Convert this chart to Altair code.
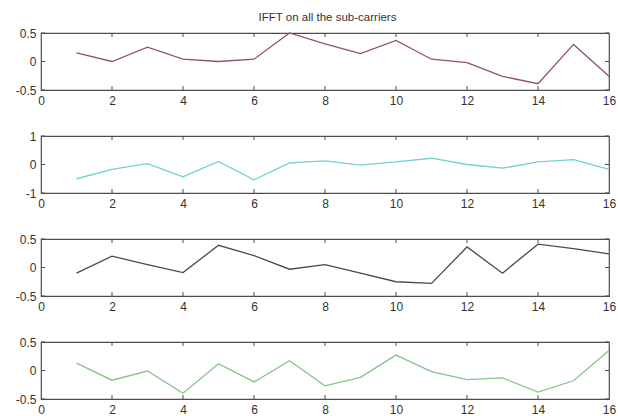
import altair as alt
import pandas as pd

# Sub-carrier index and the four IFFT output rows
carrier = list(range(1, 17))
row1 = [0.15, 0.0, 0.25, 0.04, 0.0, 0.04, 0.5, 0.31, 0.14, 0.37, 0.04, -0.02, -0.26, -0.39, 0.30, -0.26]
row2 = [-0.5, -0.17, 0.03, -0.43, 0.11, -0.54, 0.06, 0.13, -0.02, 0.09, 0.22, 0.0, -0.13, 0.09, 0.17, -0.17]
row3 = [-0.10, 0.20, 0.05, -0.09, 0.39, 0.21, -0.03, 0.05, -0.10, -0.25, -0.28, 0.36, -0.10, 0.41, 0.33, 0.24]
row4 = [0.13, -0.17, -0.01, -0.40, 0.12, -0.20, 0.17, -0.27, -0.12, 0.27, -0.02, -0.16, -0.13, -0.38, -0.18, 0.35]

colors = ["#94525f", "#72cfd2", "#4a4a4a", "#86c486"]
y_limits = [(-0.5, 0.5), (-1, 1), (-0.5, 0.5), (-0.5, 0.5)]
y_ticks = [[-0.5, 0, 0.5], [-1, 0, 1], [-0.5, 0, 0.5], [-0.5, 0, 0.5]]
x_ticks = list(range(0, 17, 2))
inner_x_ticks = list(range(2, 15, 2))

W, H = 568, 57
FONT = "Liberation Sans"
FRAME = "#4d4d4d"


def panel(values, color, ylim, yt):
    df = pd.DataFrame({"n": carrier, "v": values})
    xs = alt.Scale(domain=[0, 16], nice=False, zero=False)
    ys = alt.Scale(domain=list(ylim), nice=False, zero=False)
    # one axis definition shared by every layer so the merged axes agree
    xa = alt.Axis(values=x_ticks, title=None, ticks=False, domain=False, grid=False,
                  labelPadding=5, labelFlush=False, labelOverlap=False,
                  labelExpr="'' + datum.value")
    ya = alt.Axis(values=yt, title=None, ticks=False, domain=False, grid=False,
                  labelPadding=5, labelFlush=False, labelOverlap=False,
                  tickCount=len(yt), labelExpr="'' + datum.value")
    line = alt.Chart(df).mark_line(color=color, strokeWidth=1.3).encode(
        x=alt.X("n:Q", scale=xs, axis=xa),
        y=alt.Y("v:Q", scale=ys, axis=ya),
    )
    tx = pd.DataFrame({"t": inner_x_ticks})
    ty = pd.DataFrame({"t": yt})
    # inward tick marks along the four sides of the box
    top = alt.Chart(tx).mark_rule(color=FRAME, strokeWidth=1).encode(
        x=alt.X("t:Q", scale=xs, axis=xa), y=alt.value(0), y2=alt.value(4))
    bottom = alt.Chart(tx).mark_rule(color=FRAME, strokeWidth=1).encode(
        x=alt.X("t:Q", scale=xs, axis=xa), y=alt.value(H - 4), y2=alt.value(H))
    left = alt.Chart(ty).mark_rule(color=FRAME, strokeWidth=1).encode(
        y=alt.Y("t:Q", scale=ys, axis=ya), x=alt.value(0), x2=alt.value(4))
    right = alt.Chart(ty).mark_rule(color=FRAME, strokeWidth=1).encode(
        y=alt.Y("t:Q", scale=ys, axis=ya), x=alt.value(W - 4), x2=alt.value(W))
    return alt.layer(line, top, bottom, left, right).properties(width=W, height=H)


panels = [panel(v, c, yl, yt) for v, c, yl, yt in zip([row1, row2, row3, row4], colors, y_limits, y_ticks)]

chart = alt.vconcat(*panels, spacing=22).properties(
    title=alt.TitleParams("IFFT on all the sub-carriers", font=FONT, fontSize=11.5,
                          fontWeight="normal", color="#333333", anchor="middle",
                          offset=3, dx=12),
    padding={"left": 14, "top": 11, "right": 0, "bottom": 0},
    background="white",
).configure_view(
    stroke=FRAME, strokeWidth=1.2
).configure_axis(
    labelFont=FONT, labelFontSize=12, labelColor="#333333"
)

chart.save("out.html", embed_options={"renderer": "svg", "actions": False})
